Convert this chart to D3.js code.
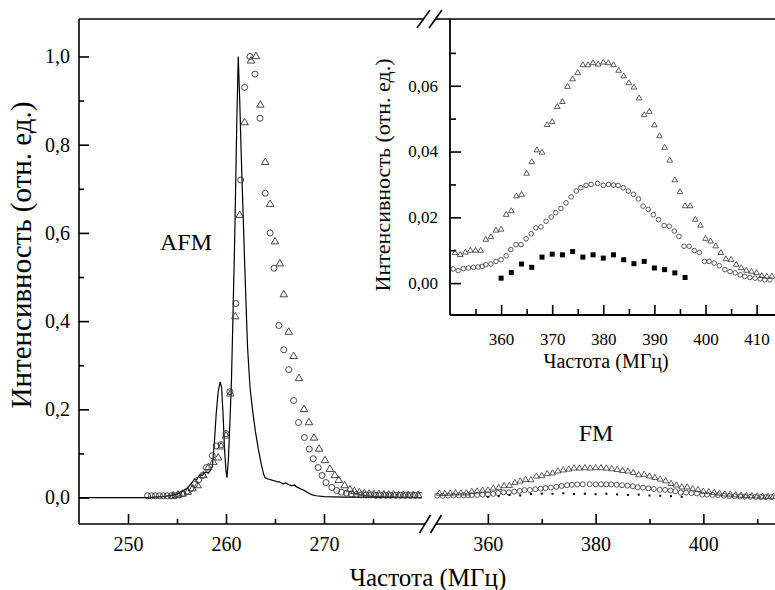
<!DOCTYPE html>
<html><head><meta charset="utf-8">
<script src="https://cdn.jsdelivr.net/npm/d3@7"></script>
<style>body{margin:0;background:#fff} svg text{font-family:'Liberation Serif','Times New Roman',Times,'DejaVu Serif',serif !important;fill:#000}</style>
</head><body><svg id="c" width="775" height="590"></svg>
<script>
// ---------- DATA ----------
// AFM measured spectrum (solid line)
const afmLineFreq = [245,252,253.5,254.5,255,255.5,256,256.3,256.6,256.8,257.0,257.2,257.4,257.6,257.8,258.0,258.2,258.4,258.6,258.8,259.0,259.2,259.4,259.55,259.7,259.85,260.0,260.1,260.25,260.4,260.55,260.7,260.9,261.1,261.25,261.4,261.55,261.75,261.95,262.2,262.45,262.7,263.0,263.3,263.6,263.85,264.0,264.3,264.6,264.9,265.2,265.5,265.8,266.1,266.4,266.7,267.0,267.3,267.6,267.9,268.2,268.5,268.8,269.2,270,272,280];
const afmLineInt  = [0,0,0.002,0.005,0.008,0.014,0.02,0.028,0.036,0.042,0.04,0.048,0.052,0.05,0.056,0.058,0.055,0.062,0.07,0.12,0.19,0.24,0.262,0.25,0.19,0.11,0.06,0.045,0.09,0.17,0.26,0.4,0.6,0.85,1.0,0.9,0.78,0.64,0.5,0.34,0.25,0.2,0.15,0.11,0.075,0.052,0.045,0.042,0.04,0.038,0.036,0.035,0.031,0.033,0.029,0.027,0.028,0.023,0.02,0.017,0.013,0.009,0.006,0.004,0.002,0.001,0];

// AFM circles
const afmCircFreq = [252.0,252.4,252.8,253.2,253.6,254.0,254.4,254.8,255.2,255.6,256.0,256.4,256.8,257.2,257.6,258.0,258.6,259.0,259.5,260.0,260.4,261.0,261.5,261.9,262.45,262.96,263.47,264.0,264.5,264.9,265.4,265.9,266.4,266.9,267.4,268.0,268.5,268.9,269.4,269.8,270.2,270.8,271.3,271.8,272.3,272.8,273.3,273.8,274.3,274.8,275.3,275.8,276.3,276.8,277.3,277.8,278.3,278.8,279.3,279.8];
const afmCircInt  = [0.004,0.004,0.004,0.004,0.004,0.004,0.004,0.004,0.006,0.009,0.014,0.02,0.03,0.04,0.05,0.068,0.095,0.117,0.12,0.145,0.24,0.44,0.72,0.93,1.0,0.96,0.86,0.69,0.60,0.52,0.39,0.335,0.29,0.22,0.17,0.136,0.11,0.088,0.068,0.05,0.034,0.023,0.016,0.012,0.01,0.008,0.007,0.006,0.006,0.006,0.005,0.005,0.005,0.005,0.005,0.005,0.005,0.005,0.005,0.005];

// AFM triangles
const afmTriFreq = [254.6,255.1,255.6,256.1,256.6,257.1,257.7,258.2,258.7,259.2,259.5,260.0,260.45,260.95,261.4,261.9,262.55,263.06,263.5,264.0,264.5,265.0,265.5,265.9,266.4,266.9,267.45,267.96,268.47,268.98,269.5,270.1,270.6,271.1,271.5,272.1,272.65,273.1,273.6,274.1,274.6,275.1,275.6,276.1,276.6,277.1,277.6,278.1,278.6,279.1,279.6];
const afmTriInt  = [0.004,0.006,0.008,0.012,0.02,0.027,0.05,0.068,0.08,0.09,0.115,0.14,0.235,0.41,0.64,0.85,0.99,1.0,0.89,0.76,0.665,0.58,0.53,0.46,0.375,0.32,0.27,0.2,0.17,0.135,0.11,0.084,0.064,0.05,0.039,0.027,0.018,0.014,0.011,0.009,0.008,0.007,0.007,0.006,0.006,0.006,0.005,0.005,0.005,0.005,0.005];

// FM triangles
const fmTriFreq = [351,352,353,354,355,356,357,358,359,360,361,362,363,364,365,366,367,368,369,370,371,372,373,374,375,376,377,378,379,380,381,382,383,384,385,386,387,388,389,390,391,392,393,394,395,396,397,398,399,400,401,402,403,404,405,406,407,408,409,410,411,412,413];
const fmTriInt  = [0.0092,0.0086,0.0093,0.0099,0.0099,0.0099,0.0132,0.014,0.016,0.0163,0.0208,0.0219,0.0264,0.0269,0.0333,0.0368,0.0404,0.0397,0.0481,0.049,0.0536,0.0551,0.0597,0.062,0.0639,0.0663,0.0663,0.0669,0.0665,0.0671,0.0669,0.0663,0.0646,0.0629,0.0608,0.0595,0.0562,0.0511,0.0521,0.048,0.0447,0.0412,0.0373,0.0313,0.0277,0.0234,0.0234,0.0193,0.0175,0.0135,0.0127,0.0112,0.0092,0.0073,0.0071,0.0056,0.0046,0.0038,0.0035,0.0031,0.0022,0.002,0.002];

// FM circles
const fmCircFreq = [350.6,351.6,352.6,353.6,354.6,355.5,356.3,357.0,358.0,359.0,360.0,361.0,361.9,362.9,363.9,364.9,365.9,366.8,367.8,368.8,369.8,370.7,371.7,372.7,373.7,374.7,375.6,376.6,377.6,378.9,380.0,381.0,382.0,382.9,383.9,384.9,385.9,386.9,387.8,388.8,389.8,390.8,391.9,392.9,393.9,394.8,395.8,396.8,397.8,398.8,399.8,400.7,401.7,402.7,403.8,404.8,405.8,406.8,407.7,408.7,409.7,410.7,411.6,412.6];
const fmCircInt  = [0.0043,0.0038,0.0044,0.0046,0.0048,0.0049,0.0051,0.0056,0.0058,0.0066,0.0071,0.0083,0.0102,0.0117,0.0117,0.0135,0.015,0.0168,0.0171,0.0188,0.0201,0.0214,0.0227,0.0244,0.0262,0.028,0.029,0.0297,0.03,0.0303,0.0297,0.03,0.0298,0.0297,0.029,0.028,0.027,0.0256,0.0234,0.0224,0.0208,0.0193,0.0175,0.0173,0.0158,0.0142,0.0112,0.0112,0.0099,0.0093,0.0066,0.0066,0.0061,0.0053,0.0041,0.0035,0.0031,0.0025,0.002,0.0017,0.0015,0.0013,0.001,0.001];

// FM squares
const fmSqFreq = [360,362,364,366,368,370,372,374,376,378,380,382,384,386,388,390,392,394,396];
const fmSqInt  = [0.0015,0.0032,0.0058,0.0048,0.0079,0.0088,0.0086,0.0096,0.0079,0.0086,0.0076,0.0086,0.0071,0.0059,0.0066,0.0046,0.0041,0.0031,0.0017];

// tick values / labels
const mainYTicks = [0,0.2,0.4,0.6,0.8,1.0];
const mainYMinor = [0.1,0.3,0.5,0.7,0.9];
const leftXTicks = [250,260,270];
const leftXMinor = [255,265,275];
const rightXTicks = [360,380,400];
const rightXMinor = [370,390,410];
const insetXTicks = [360,370,380,390,400,410];
const insetXMinor = [355,365,375,385,395,405];
const insetYTicks = [0,0.02,0.04,0.06];
const insetYMinor = [0.01,0.03,0.05,0.07];
const yTitle = "Интенсивность (отн. ед.)";
const xTitle = "Частота (МГц)";

// ---------- DRAW ----------
const zip = (a,b) => a.map((v,i)=>[v,b[i]]);
const svg = d3.select("#c");
const FONT = "'Liberation Serif','Times New Roman',Times,'DejaVu Serif',serif";
const T = 19, B = 524, L = 79, R = 775;

const xL = d3.scaleLinear().domain([245,280]).range([L,422]);
const xR = d3.scaleLinear().domain([350,413.3]).range([434,R]);
const y  = d3.scaleLinear().domain([-0.06,1.085]).range([B,T]);

const xi = d3.scaleLinear().domain([350,413.6]).range([450,R]);
const yi = d3.scaleLinear().domain([-0.0097,0.0803]).range([315,T]);

const defs = svg.append("defs");
defs.append("clipPath").attr("id","cl").append("rect").attr("x",L).attr("y",T).attr("width",422-L).attr("height",B-T);
defs.append("clipPath").attr("id","cr").append("rect").attr("x",434).attr("y",T).attr("width",R-434).attr("height",B-T);
defs.append("clipPath").attr("id","ci").append("rect").attr("x",450).attr("y",T).attr("width",R-450).attr("height",315-T);

const MS = "#333";
const fmt1 = d => d3.format(".1f")(d).replace(".",",");
const fmt2 = d => d3.format(".2f")(d).replace(".",",");

function styleAxis(g, fs){
  g.select(".domain").remove();
  g.attr("font-family", FONT).attr("font-size", fs);
  g.selectAll("line").attr("stroke","#000").attr("stroke-width",1.6);
  g.selectAll("text").attr("fill","#000").style("font-family", FONT);
}

// ---- main left segment
const gl = svg.append("g").attr("clip-path","url(#cl)");
gl.append("path").datum(zip(afmLineFreq,afmLineInt))
  .attr("fill","none").attr("stroke","#000").attr("stroke-width",1.2)
  .attr("d", d3.line().x(d=>xL(d[0])).y(d=>y(d[1])));
gl.selectAll("circle.ac").data(zip(afmCircFreq,afmCircInt)).join("circle")
  .attr("cx",d=>xL(d[0])).attr("cy",d=>y(d[1])).attr("r",3)
  .attr("fill","none").attr("stroke",MS).attr("stroke-width",0.9);
const triBig = d3.symbol(d3.symbolTriangle, 24);
gl.selectAll("path.at").data(zip(afmTriFreq,afmTriInt)).join("path")
  .attr("transform",d=>`translate(${xL(d[0])},${y(d[1])})`).attr("d",triBig)
  .attr("fill","none").attr("stroke",MS).attr("stroke-width",0.9);

// ---- main right segment (FM)
const gr = svg.append("g").attr("clip-path","url(#cr)");
const triSm = d3.symbol(d3.symbolTriangle, 16);
gr.selectAll("path.ft").data(zip(fmTriFreq,fmTriInt)).join("path")
  .attr("transform",d=>`translate(${xR(d[0])},${y(d[1])})`).attr("d",triSm)
  .attr("fill","none").attr("stroke",MS).attr("stroke-width",0.8);
gr.selectAll("circle.fc").data(zip(fmCircFreq,fmCircInt)).join("circle")
  .attr("cx",d=>xR(d[0])).attr("cy",d=>y(d[1])).attr("r",2.5)
  .attr("fill","none").attr("stroke",MS).attr("stroke-width",0.8);
gr.selectAll("rect.fs").data(zip(fmSqFreq,fmSqInt)).join("rect")
  .attr("x",d=>xR(d[0])-1).attr("y",d=>y(d[1])-1).attr("width",2).attr("height",2).attr("fill","#000");

// ---- main axes
svg.append("g").attr("transform",`translate(0,${B})`)
  .call(d3.axisBottom(xL).tickValues(leftXTicks).tickSize(-10).tickPadding(13).tickFormat(d3.format("d")))
  .call(g=>styleAxis(g,20));
svg.append("g").attr("transform",`translate(0,${B})`)
  .call(d3.axisBottom(xL).tickValues(leftXMinor).tickSize(-5).tickFormat(""))
  .call(g=>styleAxis(g,20));
svg.append("g").attr("transform",`translate(0,${B})`)
  .call(d3.axisBottom(xR).tickValues(rightXTicks).tickSize(-10).tickPadding(13).tickFormat(d3.format("d")))
  .call(g=>styleAxis(g,20));
svg.append("g").attr("transform",`translate(0,${B})`)
  .call(d3.axisBottom(xR).tickValues(rightXMinor).tickSize(-5).tickFormat(""))
  .call(g=>styleAxis(g,20));
svg.append("g").attr("transform",`translate(${L},0)`)
  .call(d3.axisLeft(y).tickValues(mainYTicks).tickSize(-10).tickPadding(9).tickFormat(fmt1))
  .call(g=>styleAxis(g,20));
svg.append("g").attr("transform",`translate(${L},0)`)
  .call(d3.axisLeft(y).tickValues(mainYMinor).tickSize(-5).tickFormat(""))
  .call(g=>styleAxis(g,20));

// frame lines with breaks
const frame = svg.append("g").attr("stroke","#000").attr("stroke-width",1.6).attr("fill","none");
frame.append("line").attr("x1",L).attr("x2",L).attr("y1",T).attr("y2",B);
frame.append("line").attr("x1",L).attr("x2",423.5).attr("y1",T).attr("y2",T);
frame.append("line").attr("x1",435.5).attr("x2",R).attr("y1",T).attr("y2",T);
frame.append("line").attr("x1",L).attr("x2",425).attr("y1",B).attr("y2",B);
frame.append("line").attr("x1",436).attr("x2",R).attr("y1",B).attr("y2",B);
[423.5,435.5].forEach(cx=>frame.append("line").attr("x1",cx-6.5).attr("y1",T+9).attr("x2",cx+6.5).attr("y2",T-9));
[425,436].forEach(cx=>frame.append("line").attr("x1",cx-5.5).attr("y1",B+9).attr("x2",cx+5.5).attr("y2",B-9));

// ---- inset
const gi = svg.append("g");
gi.append("rect").attr("x",450).attr("y",T+1).attr("width",R-450).attr("height",315-T-1).attr("fill","#fff");
const gic = gi.append("g").attr("clip-path","url(#ci)");
const triIn = d3.symbol(d3.symbolTriangle, 14);
gic.selectAll("path.it").data(zip(fmTriFreq,fmTriInt)).join("path")
  .attr("transform",d=>`translate(${xi(d[0])},${yi(d[1])})`).attr("d",triIn)
  .attr("fill","none").attr("stroke",MS).attr("stroke-width",0.8);
gic.selectAll("circle.ic").data(zip(fmCircFreq,fmCircInt)).join("circle")
  .attr("cx",d=>xi(d[0])).attr("cy",d=>yi(d[1])).attr("r",2.3)
  .attr("fill","none").attr("stroke",MS).attr("stroke-width",0.8);
gic.selectAll("rect.is").data(zip(fmSqFreq,fmSqInt)).join("rect")
  .attr("x",d=>xi(d[0])-2.5).attr("y",d=>yi(d[1])-2.5).attr("width",5).attr("height",5).attr("fill","#000");

gi.append("g").attr("transform","translate(0,315)")
  .call(d3.axisBottom(xi).tickValues(insetXTicks).tickSize(-10).tickPadding(18).tickFormat(d3.format("d")))
  .call(g=>styleAxis(g,17));
gi.append("g").attr("transform","translate(0,315)")
  .call(d3.axisBottom(xi).tickValues(insetXMinor).tickSize(-6).tickFormat(""))
  .call(g=>styleAxis(g,17));
gi.append("g").attr("transform","translate(450,0)")
  .call(d3.axisLeft(yi).tickValues(insetYTicks).tickSize(-11).tickPadding(12).tickFormat(fmt2))
  .call(g=>styleAxis(g,17));
gi.append("g").attr("transform","translate(450,0)")
  .call(d3.axisLeft(yi).tickValues(insetYMinor).tickSize(-6).tickFormat(""))
  .call(g=>styleAxis(g,17));
gi.append("line").attr("x1",450).attr("x2",450).attr("y1",T).attr("y2",315).attr("stroke","#000").attr("stroke-width",1.8);
gi.append("line").attr("x1",450).attr("x2",R).attr("y1",315).attr("y2",315).attr("stroke","#000").attr("stroke-width",1.8);

// ---- titles and labels
function txt(){ return svg.append("text").attr("font-family",FONT).style("font-family",FONT).attr("fill","#000"); }
txt().attr("transform","translate(31,255) rotate(-90)").attr("text-anchor","middle").attr("font-size",29).text(yTitle);
txt().attr("x",428).attr("y",586).attr("text-anchor","middle").attr("font-size",25).text(xTitle);
txt().attr("transform","translate(390,175) rotate(-90)").attr("text-anchor","middle").attr("font-size",22).text(yTitle);
txt().attr("x",606).attr("y",368).attr("text-anchor","middle").attr("font-size",20).text(xTitle);
txt().attr("x",186).attr("y",250).attr("text-anchor","middle").attr("font-size",24).text("AFM");
txt().attr("x",596).attr("y",441).attr("text-anchor","middle").attr("font-size",24).text("FM");
</script></body></html>
